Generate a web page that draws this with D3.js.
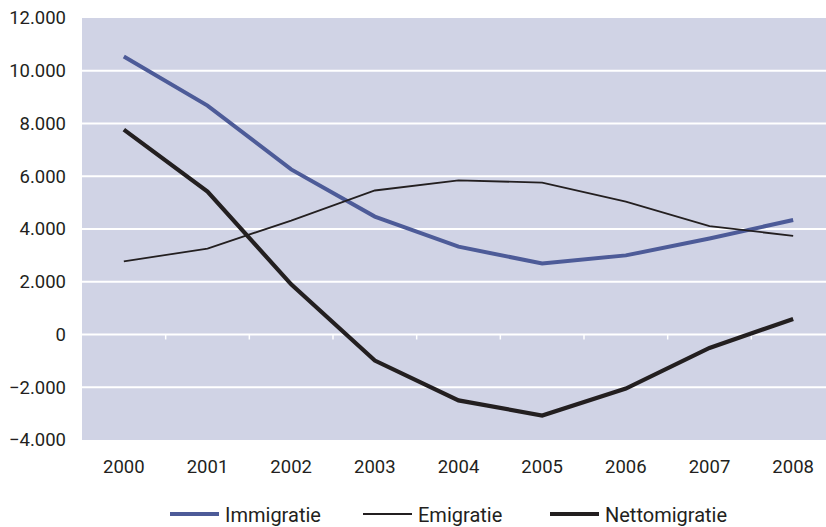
<!DOCTYPE html>
<html><head><meta charset="utf-8">
<script src="https://cdn.jsdelivr.net/npm/d3@7/dist/d3.min.js"></script>
<style>
html,body{margin:0;padding:0;background:#fff;}
svg{display:block;font-family:Roboto,"Noto Sans",sans-serif;}
</style></head>
<body>
<svg id="chart" width="826" height="527"></svg>
<script>
const years = ["2000","2001","2002","2003","2004","2005","2006","2007","2008"];
const immigratie = [10540, 8680, 6260, 4470, 3330, 2690, 3000, 3640, 4340];
const emigratie = [2770, 3260, 4320, 5460, 5840, 5760, 5040, 4110, 3740];
const nettomigratie = [7770, 5420, 1900, -990, -2500, -3070, -2050, -510, 590];
const yTicks = [-4000, -2000, 0, 2000, 4000, 6000, 8000, 10000, 12000];
const seriesNames = ["Immigratie", "Emigratie", "Nettomigratie"];

const svg = d3.select("#chart");
const W = 826, H = 527;
const m = {left: 82, top: 18, right: -9, bottom: 87};
const x = d3.scaleBand().domain(years).range([m.left, W - m.right]).padding(0);
const y = d3.scaleLinear().domain([-4000, 12000]).range([H - m.bottom, m.top]);

const fmt = v => v === 0 ? "0" : d3.format(",")(v).replace(/,/g, ".");

// plot background
svg.append("rect").attr("x", m.left).attr("y", y(12000))
  .attr("width", W - m.left).attr("height", y(-4000) - y(12000))
  .attr("fill", "#d0d3e5");

// gridlines
svg.append("g").selectAll("line").data(yTicks.filter(d => d !== -4000 && d !== 12000)).join("line")
  .attr("x1", m.left).attr("x2", W)
  .attr("y1", d => y(d)).attr("y2", d => y(d))
  .attr("stroke", "#ffffff").attr("stroke-width", 2);

// category ticks on zero line
svg.append("g").selectAll("line").data(years.slice(1)).join("line")
  .attr("x1", d => x(d)).attr("x2", d => x(d))
  .attr("y1", y(0)).attr("y2", y(0) + 5)
  .attr("stroke", "#ffffff").attr("stroke-width", 1.5);

// y axis labels
svg.append("g").selectAll("text").data(yTicks).join("text")
  .attr("x", 66).attr("y", d => y(d)).attr("dy", "0.35em")
  .attr("text-anchor", "end").attr("font-size", 18.5).attr("fill", "#231f20")
  .text(fmt);

// x axis labels
svg.append("g").selectAll("text").data(years).join("text")
  .attr("x", d => x(d) + x.bandwidth() / 2).attr("y", 473)
  .attr("text-anchor", "middle").attr("font-size", 18.5).attr("fill", "#231f20")
  .text(d => d);

const styles = {
  Immigratie: {color: "#4d5b98", width: 4},
  Emigratie: {color: "#231f20", width: 1.8},
  Nettomigratie: {color: "#231f20", width: 4.2}
};
const dataBy = {Immigratie: immigratie, Emigratie: emigratie, Nettomigratie: nettomigratie};

const line = d3.line().x((d, i) => x(years[i]) + x.bandwidth() / 2).y(d => y(d));
seriesNames.forEach(n => {
  svg.append("path").datum(dataBy[n])
    .attr("d", line).attr("fill", "none")
    .attr("stroke", styles[n].color).attr("stroke-width", styles[n].width)
    .attr("stroke-linejoin", "miter");
});

// legend
const legendX = [170, 363, 550];
const lg = svg.append("g");
seriesNames.forEach((n, i) => {
  lg.append("line").attr("x1", legendX[i]).attr("x2", legendX[i] + 49)
    .attr("y1", 514).attr("y2", 514)
    .attr("stroke", styles[n].color).attr("stroke-width", styles[n].width);
  lg.append("text").attr("x", legendX[i] + 55).attr("y", 521.5)
    .attr("font-size", 20).attr("fill", "#231f20").text(n);
});
</script>
</body></html>
